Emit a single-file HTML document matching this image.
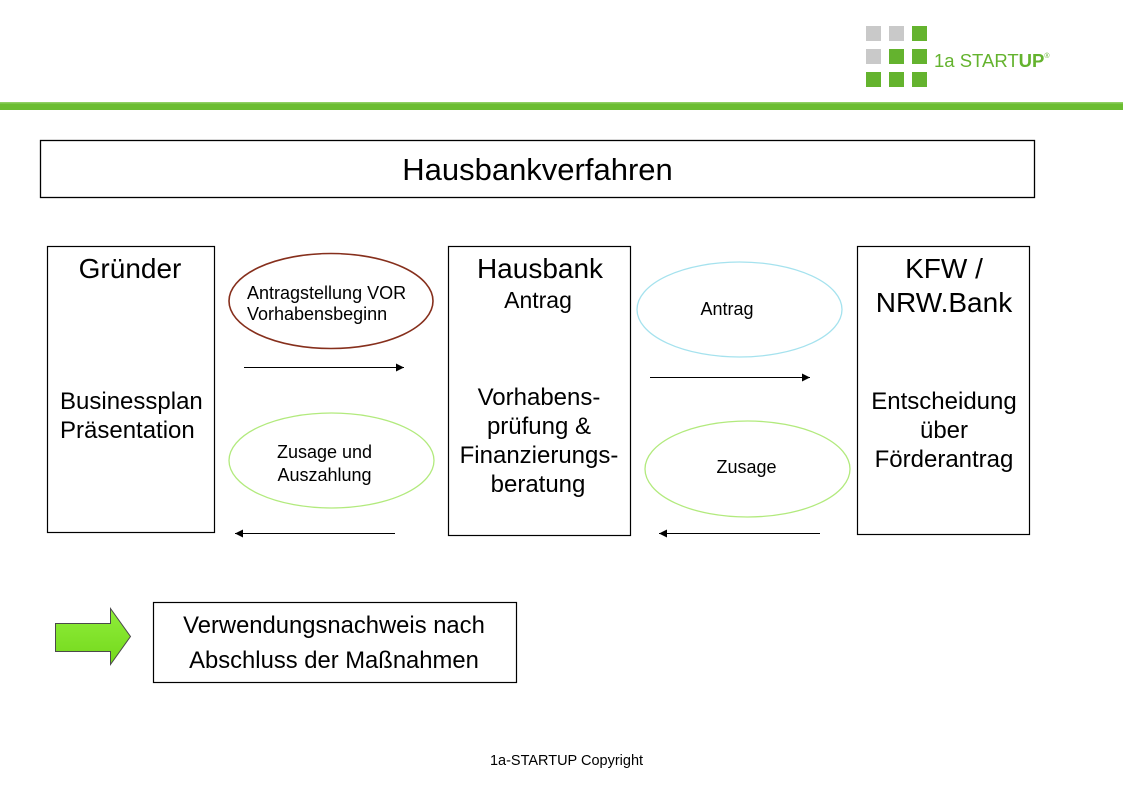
<!DOCTYPE html>
<html>
<head>
<meta charset="utf-8">
<style>
  html, body { margin: 0; padding: 0; background: #ffffff; }
  body { width: 1123px; height: 794px; overflow: hidden; }
  svg { display: block; }
  text { font-family: "Liberation Sans", Arial, sans-serif; fill: #000; }
</style>
</head>
<body>
<svg width="1123" height="794" viewBox="0 0 1123 794" xmlns="http://www.w3.org/2000/svg">
  <defs>
    <marker id="ah" viewBox="0 0 10 10" refX="10" refY="5" markerWidth="10" markerHeight="8" markerUnits="userSpaceOnUse" orient="auto">
      <path d="M0,0 L10,5 L0,10 z" fill="#000"/>
    </marker>
    <linearGradient id="lime" x1="0" y1="0" x2="0" y2="1">
      <stop offset="0" stop-color="#8fee3a"/>
      <stop offset="1" stop-color="#74d81c"/>
    </linearGradient>
  </defs>

  <!-- Logo -->
  <g>
    <rect x="866" y="26" width="15" height="15" fill="#c9c9c9"/>
    <rect x="889" y="26" width="15" height="15" fill="#c9c9c9"/>
    <rect x="912" y="26" width="15" height="15" fill="#64b32e"/>
    <rect x="866" y="49" width="15" height="15" fill="#c9c9c9"/>
    <rect x="889" y="49" width="15" height="15" fill="#64b32e"/>
    <rect x="912" y="49" width="15" height="15" fill="#64b32e"/>
    <rect x="866" y="72" width="15" height="15" fill="#64b32e"/>
    <rect x="889" y="72" width="15" height="15" fill="#64b32e"/>
    <rect x="912" y="72" width="15" height="15" fill="#64b32e"/>
    <text x="934" y="67" font-size="18.5" style="fill:#64b32e">1a START<tspan font-weight="bold">UP</tspan><tspan font-size="7" dy="-9">®</tspan></text>
  </g>

  <!-- Green bar -->
  <rect x="0" y="102" width="1123" height="8" fill="#6bbd31"/>
  <rect x="0" y="102" width="1123" height="1.5" fill="#8fcf63"/>

  <!-- Title box -->
  <rect x="40.5" y="140.5" width="994" height="57" fill="none" stroke="#000" stroke-width="1.3"/>
  <text x="537.5" y="180" font-size="31" text-anchor="middle">Hausbankverfahren</text>

  <!-- Gründer box -->
  <rect x="47.5" y="246.5" width="167" height="286" fill="none" stroke="#000" stroke-width="1.2"/>
  <text x="130" y="278" font-size="28" text-anchor="middle">Gründer</text>
  <text x="60" y="409" font-size="24">Businessplan</text>
  <text x="60" y="438" font-size="24">Präsentation</text>

  <!-- Hausbank box -->
  <rect x="448.5" y="246.5" width="182" height="289" fill="none" stroke="#000" stroke-width="1.2"/>
  <text x="540" y="278" font-size="28" text-anchor="middle">Hausbank</text>
  <text x="538" y="308" font-size="23" text-anchor="middle">Antrag</text>
  <text x="539" y="405" font-size="24" text-anchor="middle">Vorhabens-</text>
  <text x="539" y="434" font-size="24" text-anchor="middle">prüfung &amp;</text>
  <text x="539" y="463" font-size="24" text-anchor="middle">Finanzierungs-</text>
  <text x="538" y="492" font-size="24" text-anchor="middle">beratung</text>

  <!-- KFW box -->
  <rect x="857.5" y="246.5" width="172" height="288" fill="none" stroke="#000" stroke-width="1.2"/>
  <text x="944" y="278" font-size="28" text-anchor="middle">KFW /</text>
  <text x="944" y="312" font-size="28" text-anchor="middle">NRW.Bank</text>
  <text x="944" y="409" font-size="24" text-anchor="middle">Entscheidung</text>
  <text x="944" y="438" font-size="24" text-anchor="middle">über</text>
  <text x="944" y="467" font-size="24" text-anchor="middle">Förderantrag</text>

  <!-- Ellipses -->
  <ellipse cx="331" cy="301" rx="102" ry="47.5" fill="none" stroke="#862f1c" stroke-width="1.6"/>
  <text x="247" y="299" font-size="18">Antragstellung VOR</text>
  <text x="247" y="320" font-size="18">Vorhabensbeginn</text>

  <ellipse cx="331.5" cy="460.5" rx="102.5" ry="47.5" fill="none" stroke="#b2ea7d" stroke-width="1.3"/>
  <text x="324.5" y="458" font-size="18" text-anchor="middle">Zusage und</text>
  <text x="324.5" y="481" font-size="18" text-anchor="middle">Auszahlung</text>

  <ellipse cx="739.5" cy="309.5" rx="102.5" ry="47.5" fill="none" stroke="#a5e2ee" stroke-width="1.3"/>
  <text x="727" y="315" font-size="18" text-anchor="middle">Antrag</text>

  <ellipse cx="747.5" cy="469" rx="102.5" ry="48" fill="none" stroke="#b2ea7d" stroke-width="1.3"/>
  <text x="746.5" y="473" font-size="18" text-anchor="middle">Zusage</text>

  <!-- Arrows -->
  <line x1="244" y1="367.5" x2="404" y2="367.5" stroke="#000" stroke-width="1.1" marker-end="url(#ah)"/>
  <line x1="395" y1="533.5" x2="235" y2="533.5" stroke="#000" stroke-width="1.1" marker-end="url(#ah)"/>
  <line x1="650" y1="377.5" x2="810" y2="377.5" stroke="#000" stroke-width="1.1" marker-end="url(#ah)"/>
  <line x1="820" y1="533.5" x2="659" y2="533.5" stroke="#000" stroke-width="1.1" marker-end="url(#ah)"/>

  <!-- Bottom block arrow -->
  <path d="M55.5,623.5 L110.5,623.5 L110.5,608.5 L130.5,636.5 L110.5,664.5 L110.5,651.5 L55.5,651.5 Z" fill="url(#lime)" stroke="#4a4a4a" stroke-width="1"/>

  <!-- Bottom box -->
  <rect x="153.5" y="602.5" width="363" height="80" fill="none" stroke="#000" stroke-width="1.2"/>
  <text x="334" y="633" font-size="23.8" text-anchor="middle">Verwendungsnachweis nach</text>
  <text x="334" y="668" font-size="23.8" text-anchor="middle">Abschluss der Maßnahmen</text>

  <!-- Footer -->
  <text x="566.5" y="765" font-size="14.5" text-anchor="middle">1a-STARTUP Copyright</text>
</svg>
</body>
</html>
